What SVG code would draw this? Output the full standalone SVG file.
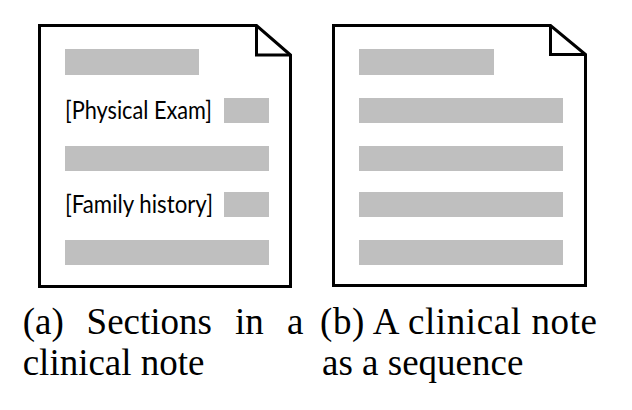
<svg xmlns="http://www.w3.org/2000/svg" width="632" height="410" viewBox="0 0 632 410">
<style>
.doc{fill:#fff;stroke:#000;stroke-width:3;stroke-linejoin:miter}
.fold{fill:none;stroke:#000;stroke-width:3}
.bar{fill:#bfbfbf}
.lbl{font-family:Lato,"Open Sans","Liberation Sans",sans-serif;font-size:24.5px;fill:#000}
.cap{font-family:"Liberation Serif","Times New Roman",serif;font-size:37px;fill:#000}
</style>
<rect width="632" height="410" fill="#fff"/>
<g id="note-a">
<path class="doc" d="M39.5,25.5 H256.5 L290.5,55 V286.5 H39.5 Z"/>
<path class="fold" d="M256.5,25.5 V55 H290.5"/>
<rect class="bar" x="65" y="49" width="134" height="26"/>
<text class="lbl" x="65" y="119" textLength="147" lengthAdjust="spacingAndGlyphs">[Physical Exam]</text>
<rect class="bar" x="224" y="98" width="45" height="25"/>
<rect class="bar" x="65" y="146" width="204" height="25"/>
<text class="lbl" x="65" y="213" textLength="148" lengthAdjust="spacingAndGlyphs">[Family history]</text>
<rect class="bar" x="224" y="192" width="45" height="25"/>
<rect class="bar" x="65" y="240" width="204" height="25"/>
</g>
<g id="note-b">
<path class="doc" d="M333.5,25.5 H550.5 L585.5,54.5 V285.5 H333.5 Z"/>
<path class="fold" d="M550.5,25.5 V54.5 H585.5"/>
<rect class="bar" x="359" y="49" width="135" height="26"/>
<rect class="bar" x="359" y="98" width="204" height="25"/>
<rect class="bar" x="359" y="146" width="204" height="25"/>
<rect class="bar" x="359" y="192" width="204" height="25"/>
<rect class="bar" x="359" y="240" width="204" height="25"/>
</g>
<g id="caption-a">
<text class="cap" x="22.7" y="334">(a)</text>
<text class="cap" x="86.6" y="334">Sections</text>
<text class="cap" x="235" y="334">in</text>
<text class="cap" x="287" y="334">a</text>
<text class="cap" x="22.7" y="375">clinical note</text>
</g>
<g id="caption-b">
<text class="cap" x="320" y="334" textLength="277" lengthAdjust="spacing">(b) A clinical note</text>
<text class="cap" x="322" y="375">as a sequence</text>
</g>
</svg>
